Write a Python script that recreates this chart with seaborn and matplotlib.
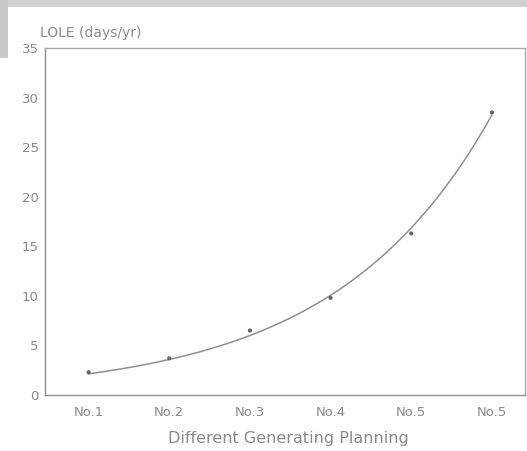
import matplotlib
matplotlib.use("Agg")
import matplotlib.pyplot as plt
from matplotlib.patches import Rectangle
import seaborn as sns
import pandas as pd
import numpy as np

plans = ["No.1", "No.2", "No.3", "No.4", "No.5", "No.5"]
plan_index = [1, 2, 3, 4, 5, 6]
lole = [2.3, 3.7, 6.5, 9.8, 16.3, 28.5]
y_ticks = [0, 5, 10, 15, 20, 25, 30, 35]

df = pd.DataFrame({"plan": plan_index, "lole": lole})

# Exponential trend through the LOLE values (weighted least squares on log scale)
slope, intercept = np.polyfit(df["plan"], np.log(df["lole"]), 1, w=df["lole"])
x_fit = np.linspace(df["plan"].min(), df["plan"].max(), 200)
trend = pd.DataFrame({"plan": x_fit, "lole": np.exp(intercept + slope * x_fit)})

sns.set_theme(style="white")
plt.rcParams["font.family"] = ["DejaVu Sans"]

W, H = 527, 451
fig = plt.figure(figsize=(W / 100, H / 100), dpi=100)
fig.patch.set_facecolor("white")

# scanned-page edges
fig.patches.append(Rectangle((0, 1 - 7 / H), 1, 7 / H, transform=fig.transFigure,
                             facecolor="#d0d0d0", edgecolor="none", zorder=0))
fig.patches.append(Rectangle((0, 1 - 58 / H), 8 / W, 58 / H, transform=fig.transFigure,
                             facecolor="#c8c8c8", edgecolor="none", zorder=0))

ax = fig.add_axes([45 / W, 1 - 395 / H, 480 / W, 347 / H])

grey_line = "#8f8f8f"
grey_text = "#8a8a8a"

sns.lineplot(data=trend, x="plan", y="lole", ax=ax, color=grey_line, lw=1.1)
sns.scatterplot(data=df, x="plan", y="lole", ax=ax, s=9, color="#666666",
                edgecolor="none", zorder=3)

ax.set_xlim(0.46, 6.41)
ax.set_ylim(0, 35)
ax.set_xticks(plan_index)
ax.set_xticklabels(plans)
ax.set_yticks(y_ticks)
ax.set_xlabel("")
ax.set_ylabel("")
ax.tick_params(axis="x", direction="in", length=5, width=0.8, color=grey_line,
               labelcolor=grey_text, labelsize=9.5, pad=8)
ax.tick_params(axis="y", direction="inout", length=5, width=0.8, color=grey_line,
               labelcolor=grey_text, labelsize=9.5, pad=2)
for s in ax.spines.values():
    s.set_color("#a8a8a8")
    s.set_linewidth(1.0)
ax.spines["left"].set_color(grey_line)
ax.spines["bottom"].set_color(grey_line)

fig.text(40 / W, 1 - 33 / H, "LOLE (days/yr)", fontsize=10, color=grey_text,
         ha="left", va="center")
fig.text(288 / W, 1 - 439 / H, "Different Generating Planning", fontsize=11.5,
         color=grey_text, ha="center", va="center")

fig.savefig("out.png", dpi=100, facecolor="white")
